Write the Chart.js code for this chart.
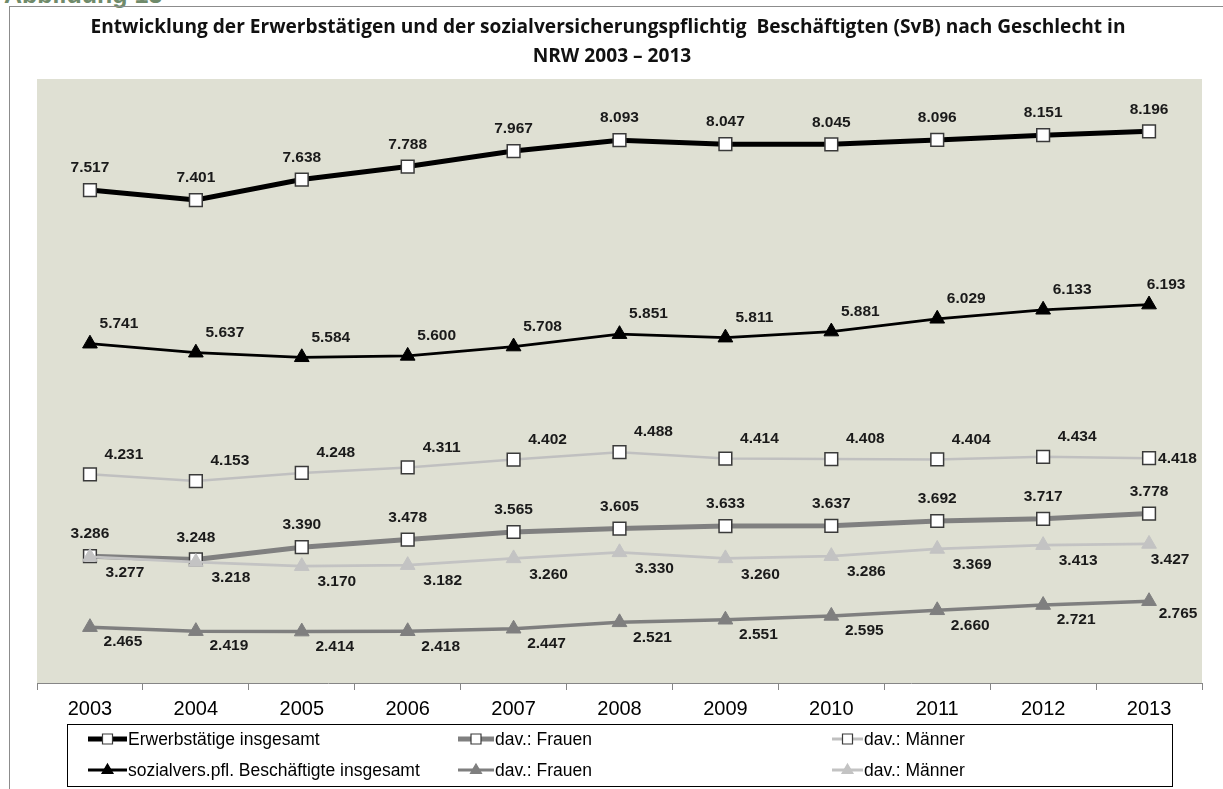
<!DOCTYPE html>
<html><head><meta charset="utf-8">
<script src="https://cdn.jsdelivr.net/npm/chart.js@4.4.1/dist/chart.umd.min.js"></script>
<style>
html,body{margin:0;padding:0;background:#fff;width:1223px;height:789px;overflow:hidden;}
#frame{position:absolute;left:9px;top:6px;width:1400px;height:900px;border-left:1px solid #8c8c8c;border-top:1px solid #8c8c8c;}
#abb{position:absolute;left:4px;top:-18px;font:bold 25px "Liberation Sans",Arial,sans-serif;color:#6f8a6a;line-height:25px;white-space:nowrap;}
#wrap{position:absolute;left:0;top:0;width:1223px;height:789px;}
</style></head><body>
<div id="abb">Abbildung 13</div>
<div id="frame"></div>
<div id="wrap"><canvas id="c" width="1223" height="789"></canvas></div>
<script>
// ---- data (Tsd. Personen) ----
const years = ['2003','2004','2005','2006','2007','2008','2009','2010','2011','2012','2013'];
const erwerbInsgesamt = [7517, 7401, 7638, 7788, 7967, 8093, 8047, 8045, 8096, 8151, 8196];
const erwerbFrauen    = [3286, 3248, 3390, 3478, 3565, 3605, 3633, 3637, 3692, 3717, 3778];
const erwerbMaenner   = [4231, 4153, 4248, 4311, 4402, 4488, 4414, 4408, 4404, 4434, 4418];
const svbInsgesamt    = [5741, 5637, 5584, 5600, 5708, 5851, 5811, 5881, 6029, 6133, 6193];
const svbFrauen       = [2465, 2419, 2414, 2418, 2447, 2521, 2551, 2595, 2660, 2721, 2765];
const svbMaenner      = [3277, 3218, 3170, 3182, 3260, 3330, 3260, 3286, 3369, 3413, 3427];
const seriesLabels = ['Erwerbstätige insgesamt', 'dav.: Frauen', 'dav.: Männer',
                      'sozialvers.pfl. Beschäftigte insgesamt', 'dav.: Frauen', 'dav.: Männer'];
const titleLines = ['Entwicklung der Erwerbstätigen und der sozialversicherungspflichtig  Beschäftigten (SvB) nach Geschlecht in',
                    'NRW 2003 \u2013 2013'];

const fmt = v => String(v).replace(/\B(?=(\d{3})+(?!\d))/g, '.');
const FONT = '"Liberation Sans", Arial, sans-serif';

function sq(ds) { return Object.assign({pointStyle:'rect', pointRadius:9, pointHoverRadius:9,
  pointBackgroundColor:'#ffffff', pointBorderColor:'#3a3a3a', pointBorderWidth:1.5}, ds); }
function tri(color, ds) { return Object.assign({pointStyle:'triangle', pointRadius:8.5, pointHoverRadius:8.5,
  pointBackgroundColor:color, pointBorderColor:color, pointBorderWidth:1}, ds); }

const datasets = [
  sq({key:'eI', label:seriesLabels[0], data:erwerbInsgesamt, borderColor:'#000000', borderWidth:5,
      lbl:{dx:0, dy:-22, align:'center'}}),
  tri('#000000', {key:'sI', label:seriesLabels[3], data:svbInsgesamt, borderColor:'#000000', borderWidth:2.8,
      lbl:{dx:29, dy:-20, align:'center'}, lblLast:{dx:17, dy:-20, align:'center'}}),
  tri('#c3c3c3', {key:'sM', label:seriesLabels[5], data:svbMaenner, borderColor:'#c3c3c3', borderWidth:2.8,
      lbl:{dx:35, dy:16, align:'center'}, lblLast:{dx:21, dy:16, align:'center'}}),
  sq({key:'eF', label:seriesLabels[1], data:erwerbFrauen, borderColor:'#808080', borderWidth:5,
      lbl:{dx:0, dy:-22, align:'center'}}),
  sq({key:'eM', label:seriesLabels[2], data:erwerbMaenner, borderColor:'#c0c0c0', borderWidth:2.5,
      lbl:{dx:34, dy:-20, align:'center'}, lblLast:{dx:9, dy:1, align:'left'}}),
  tri('#7f7f7f', {key:'sF', label:seriesLabels[4], data:svbFrauen, borderColor:'#7f7f7f', borderWidth:3.5,
      lbl:{dx:33, dy:15, align:'center'}, lblLast:{dx:29, dy:12, align:'center'}})
];
datasets.forEach(d => { d.tension = 0; d.fill = false; });

const plotBg = {
  id:'plotBg',
  beforeDraw(chart) {
    const {ctx, chartArea:a} = chart;
    ctx.save(); ctx.fillStyle = '#dfe0d3';
    ctx.fillRect(a.left, a.top, a.right - a.left, a.bottom - a.top); ctx.restore();
  }
};

const titlePlugin = {
  id:'titleText',
  afterDraw(chart) {
    const ctx = chart.ctx;
    ctx.save();
    const fam = '"Open Sans", Lato, sans-serif';
    ctx.font = 'bold 20px ' + fam;
    const w = ctx.measureText(titleLines[0]).width;
    const size = Math.min(22, 20 * 1036 / w);
    ctx.font = 'bold ' + size.toFixed(2) + 'px ' + fam;
    ctx.fillStyle = '#111'; ctx.textAlign = 'center'; ctx.textBaseline = 'middle';
    ctx.fillText(titleLines[0], 608, 28);
    ctx.fillText(titleLines[1], 612, 57);
    ctx.restore();
  }
};

const pointLabels = {
  id:'pointLabels',
  afterDatasetsDraw(chart) {
    const ctx = chart.ctx;
    ctx.save();
    ctx.font = 'bold 15.5px ' + FONT; ctx.fillStyle = '#1a1a1a'; ctx.textBaseline = 'middle';
    chart.data.datasets.forEach((ds, i) => {
      const meta = chart.getDatasetMeta(i);
      meta.data.forEach((pt, j) => {
        const p = (j === meta.data.length - 1 && ds.lblLast) ? ds.lblLast : ds.lbl;
        ctx.textAlign = p.align;
        ctx.fillText(fmt(ds.data[j]), pt.x + p.dx, pt.y + p.dy);
      });
    });
    ctx.restore();
  }
};

function drawMarker(ctx, style, x, y, fill, stroke) {
  ctx.beginPath();
  if (style === 'rect') {
    ctx.rect(x - 5, y - 5, 10, 10);
  } else {
    ctx.moveTo(x, y - 6); ctx.lineTo(x + 5.5, y + 3.5); ctx.lineTo(x - 5.5, y + 3.5); ctx.closePath();
  }
  ctx.fillStyle = fill; ctx.fill();
  ctx.lineWidth = 1.2; ctx.strokeStyle = stroke; ctx.stroke();
}

const boxLegend = {
  id:'boxLegend',
  afterDraw(chart) {
    const ctx = chart.ctx;
    const rows = [['eI','eF','eM'], ['sI','sF','sM']];
    const rowY = [739, 770];
    const colX = [88, 458, 832];
    const symW = [39, 36, 31];
    ctx.save();
    ctx.fillStyle = '#ffffff';
    ctx.fillRect(67, 724, 1105, 62);
    ctx.strokeStyle = '#000'; ctx.lineWidth = 1;
    ctx.strokeRect(67.5, 724.5, 1105, 62);
    ctx.font = '17.5px ' + FONT; ctx.textBaseline = 'middle'; ctx.textAlign = 'left';
    rows.forEach((row, r) => row.forEach((key, c) => {
      const ds = chart.data.datasets.find(d => d.key === key);
      const y = rowY[r], x0 = colX[c], w = symW[c];
      ctx.strokeStyle = ds.borderColor; ctx.lineWidth = ds.borderWidth >= 5 ? 5 : 3;
      ctx.beginPath(); ctx.moveTo(x0, y); ctx.lineTo(x0 + w, y); ctx.stroke();
      drawMarker(ctx, ds.pointStyle, x0 + w / 2, y, ds.pointBackgroundColor, ds.pointBorderColor);
      ctx.fillStyle = '#000';
      ctx.fillText(ds.label, x0 + w + 1, y + 1);
    }));
    ctx.restore();
  }
};

new Chart(document.getElementById('c'), {
  type:'line',
  data:{ labels: years, datasets },
  options:{
    responsive:false, animation:false, devicePixelRatio:1,
    layout:{ padding:{ left:37, right:21, top:79, bottom:61 } },
    plugins:{ legend:{display:false}, title:{display:false}, tooltip:{enabled:false} },
    scales:{
      x:{
        offset:true,
        grid:{ offset:true, drawOnChartArea:false, drawTicks:true, tickLength:7, color:'#868686' },
        border:{ display:true, color:'#868686', width:1 },
        ticks:{ font:{ family:FONT, size:20 }, color:'#000', padding:7 }
      },
      y:{ display:false, min:1820, max:8800 }
    }
  },
  plugins:[plotBg, pointLabels, titlePlugin, boxLegend]
});
</script>
</body></html>
